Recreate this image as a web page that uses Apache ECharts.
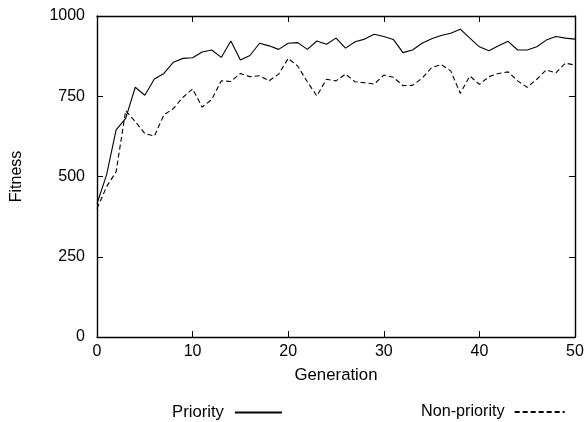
<!DOCTYPE html>
<html><head><meta charset="utf-8">
<script src="https://cdn.jsdelivr.net/npm/echarts@6/dist/echarts.min.js"></script>
<style>html,body{margin:0;padding:0;background:#fff}#c{width:587px;height:422px}</style>
</head><body><div id="c"></div>
<script>
const generations = Array.from({length: 51}, (_, i) => i);
const priority = [415,505,645,681,778,753,804,821,856,868,870,888,894,871,922,863,877,915,907,896,915,917,896,922,912,931,900,920,928,943,936,927,886,894,915,929,939,946,959,931,904,892,907,921,894,894,904,925,936,931,928];
const nonPriority = [400,468,515,705,671,634,626,692,712,747,773,716,740,798,796,821,811,814,798,819,868,844,795,751,803,798,819,795,792,788,816,809,783,784,806,839,849,829,759,813,787,811,821,826,798,778,803,832,823,853,847];
const xTicks = [0,10,20,30,40,50];
const yTicks = [0,250,500,750,1000];

const font = 'Liberation Sans, Arial, sans-serif';
const chart = echarts.init(document.getElementById('c'), null, {renderer: 'canvas'});
const axisLineStyle = {show: true, onZero: false, lineStyle: {color: '#000', width: 1.4}};
const tickStyle = {show: true, inside: true, length: 6, lineStyle: {color: '#000', width: 1}};
chart.setOption({
  animation: false,
  backgroundColor: '#fff',
  grid: {left: 97, right: 12, top: 16, bottom: 85, containLabel: false},
  xAxis: [{
    type: 'value', min: 0, max: 50, interval: 10, position: 'bottom',
    name: 'Generation', nameLocation: 'middle', nameGap: 30,
    nameTextStyle: {fontFamily: font, fontSize: 16.8, color: '#000'},
    axisLine: axisLineStyle, axisTick: tickStyle, splitLine: {show: false},
    axisLabel: {fontFamily: font, fontSize: 16, color: '#000', margin: 7,
      formatter: v => xTicks.includes(v) ? String(v) : ''}
  }, {
    type: 'value', min: 0, max: 50, interval: 10, position: 'top',
    axisLine: axisLineStyle, axisTick: tickStyle, splitLine: {show: false},
    axisLabel: {show: false}
  }],
  yAxis: [{
    type: 'value', min: 0, max: 1000, interval: 250, position: 'left',
    name: 'Fitness', nameLocation: 'middle', nameGap: 72, nameRotate: 90,
    nameTextStyle: {fontFamily: font, fontSize: 16, color: '#000'},
    axisLine: axisLineStyle, axisTick: tickStyle, splitLine: {show: false},
    axisLabel: {fontFamily: font, fontSize: 16, color: '#000', margin: 12,
      formatter: v => yTicks.includes(v) ? String(v) : ''}
  }, {
    type: 'value', min: 0, max: 1000, interval: 250, position: 'right',
    axisLine: axisLineStyle, axisTick: tickStyle, splitLine: {show: false},
    axisLabel: {show: false}
  }],
  legend: [{
    data: ['Priority'], left: 172, top: 404, padding: 0, align: 'right', itemWidth: 47, itemHeight: 12,
    itemStyle: {opacity: 0},
    textStyle: {fontFamily: font, fontSize: 16.7, color: '#000', padding: [0, 6, 0, 0]}
  }, {
    data: ['Non-priority'], left: 421, top: 404, padding: 0, align: 'right', itemWidth: 50, itemHeight: 12,
    itemStyle: {opacity: 0},
    textStyle: {fontFamily: font, fontSize: 16.2, color: '#000', padding: [0, 5, 0, 0]}
  }],
  series: [{
    name: 'Priority', type: 'line', symbol: 'none', xAxisIndex: 0, yAxisIndex: 0,
    data: generations.map((g, i) => [g, priority[i]]),
    lineStyle: {color: '#000', width: 1.1, type: 'solid'}, itemStyle: {color: '#000'}
  }, {
    name: 'Non-priority', type: 'line', symbol: 'none', xAxisIndex: 0, yAxisIndex: 0,
    data: generations.map((g, i) => [g, nonPriority[i]]),
    lineStyle: {color: '#000', width: 1.1, type: [5, 3]}, itemStyle: {color: '#000'}
  }]
});
</script></body></html>
